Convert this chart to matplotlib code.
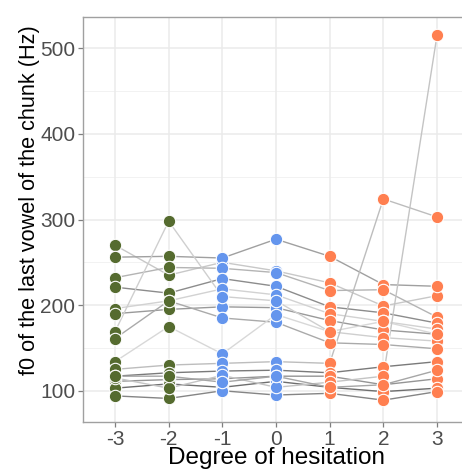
import matplotlib
matplotlib.use('Agg')
import matplotlib.pyplot as plt
import numpy as np

plt.rcParams['font.family'] = ['Liberation Sans', 'DejaVu Sans']

# Degree of hesitation (x categories)
degrees = [-3, -2, -1, 0, 1, 2, 3]

# f0 (Hz) per degree, one entry per speaker/item (same order in every list)
f0_m3 = [270, 256, 232, 221, 196, 190, 169, 161, 134, 125, 117, 111, 103, 94, 115, 117]
f0_m2 = [235, 257, 244, 214, 205, 195, 298, 205, 175, 130, 121, 113, 108, 91, 103, 117]
f0_m1 = [250, 255, 243, 231, 219, 198, 210, 185, 143, 132, 123, 114, 104, 100, 118, 110]
f0_0 = [240, 277, 238, 222, 212, 197, 205, 180, 189, 134, 124, 117, 111, 95, 104, 117]
f0_p1 = [226, 257, 217, 198, 190, 182, 169, 156, 169, 132, 121, 117, 104, 97, 110, 104]
f0_p2 = [199, 224, 218, 191, 181, 171, 162, 154, 181, 324, 128, 107, 99, 89, 117, 107]
f0_p3 = [211, 222, 186, 179, 172, 166, 158, 149, 166, 303, 134, 114, 103, 99, 515, 124]

# grey shade of each speaker's connecting line
line_greys = ['#c8c8c8', '#a0a0a0', '#b4b4b4', '#8c8c8c', '#d2d2d2', '#9a9a9a',
              '#cfcfcf', '#aaaaaa', '#d8d8d8', '#bdbdbd', '#7a7a7a', '#959595',
              '#6e6e6e', '#858585', '#c4c4c4', '#a6a6a6']

# point colour per degree
point_colors = ['#556B2F', '#556B2F', '#6495ED', '#6495ED', '#FF7F50', '#FF7F50', '#FF7F50']

columns = [f0_m3, f0_m2, f0_m1, f0_0, f0_p1, f0_p2, f0_p3]
values = np.array(columns, dtype=float)  # shape (degree, speaker)

fig = plt.figure(figsize=(4.62, 4.72), dpi=100)
ax = fig.add_axes([82.8 / 462, 50 / 472, 386.4 / 462, 405 / 472])

# gridlines
for y in [150, 250, 350, 450]:
    ax.axhline(y, color='#f0f0f0', lw=0.6, zorder=0)
for y in [100, 200, 300, 400, 500]:
    ax.axhline(y, color='#ebebeb', lw=1.1, zorder=0)
for x in degrees:
    ax.axvline(x, color='#ebebeb', lw=1.1, zorder=0)

# speaker lines
for s in range(values.shape[1]):
    ax.plot(degrees, values[:, s], color=line_greys[s], lw=1.0, zorder=1)

# points
for i, d in enumerate(degrees):
    ax.scatter([d] * values.shape[1], values[i], s=80, color=point_colors[i],
               edgecolors='white', linewidths=0.8, zorder=3)

ax.set_xlim(-3.6, 3.6)
ax.set_ylim(63.5, 536.5)
ax.set_xticks(degrees)
ax.set_xticklabels([str(d) for d in degrees])
ax.set_yticks([100, 200, 300, 400, 500])

for sp in ax.spines.values():
    sp.set_color('#a0a0a0')
    sp.set_linewidth(1.0)
ax.tick_params(axis='both', colors='#7f7f7f', length=3.5, width=0.9,
               labelsize=15, labelcolor='#4d4d4d', pad=2)

ax.set_xlabel('Degree of hesitation', fontsize=17.5, color='black', labelpad=-1)
ax.set_ylabel('f0 of the last vowel of the chunk (Hz)', fontsize=15.6, color='black')
ax.yaxis.set_label_coords(-0.11, 0.548)

fig.savefig('out.png', dpi=100)
